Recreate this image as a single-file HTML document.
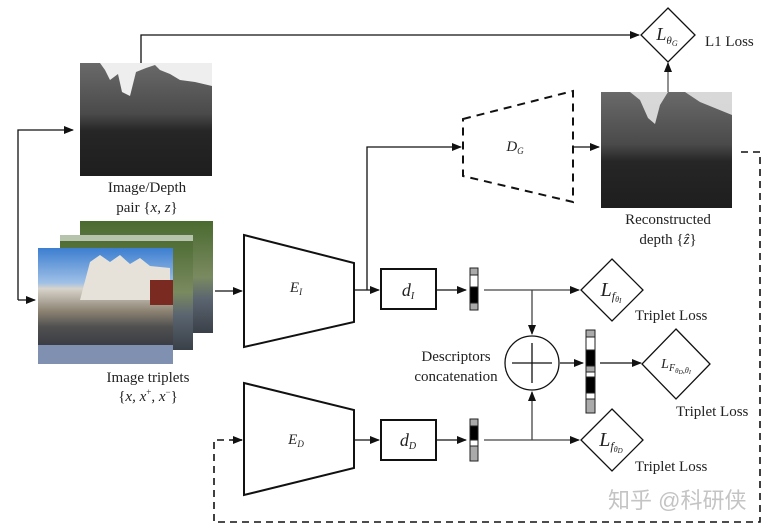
<!DOCTYPE html>
<html><head><meta charset="utf-8"><style>
html,body{margin:0;padding:0;background:#fff}
svg{display:block}
text{font-family:"Liberation Serif","Noto Serif CJK SC",serif;fill:#222}
</style></head><body>
<svg width="775" height="531" viewBox="0 0 775 531" xmlns="http://www.w3.org/2000/svg">
<defs>
<marker id="a" markerWidth="10" markerHeight="8" refX="9" refY="4" orient="auto" markerUnits="userSpaceOnUse"><path d="M0,0 L10,4 L0,8 z" fill="#111"/></marker>
<linearGradient id="dep" x1="0" y1="0" x2="0" y2="1">
<stop offset="0" stop-color="#6a6a6a"/><stop offset="0.45" stop-color="#4a4a4a"/><stop offset="0.6" stop-color="#262626"/><stop offset="1" stop-color="#1e1e1e"/></linearGradient>
<linearGradient id="sky" x1="0" y1="0" x2="0" y2="1">
<stop offset="0" stop-color="#3c7ed0"/><stop offset="0.3" stop-color="#9fc0e6"/><stop offset="0.35" stop-color="#d8d4cc"/><stop offset="0.55" stop-color="#8a8070"/><stop offset="0.68" stop-color="#505050"/><stop offset="0.85" stop-color="#3a3c44"/><stop offset="1" stop-color="#8090b0"/></linearGradient>
<linearGradient id="tree" x1="0" y1="0" x2="0" y2="1">
<stop offset="0" stop-color="#4a6a30"/><stop offset="0.5" stop-color="#7a8a60"/><stop offset="0.7" stop-color="#5a6470"/><stop offset="1" stop-color="#3a4048"/></linearGradient>
</defs>
<g stroke="#111" stroke-width="1.3" fill="none">
<path d="M141,63 V35 H639" marker-end="url(#a)"/>
<path d="M668,92 V63" marker-end="url(#a)" stroke="#555"/>
<path d="M18,300 V130 H73" marker-end="url(#a)"/>
<path d="M18,300 H35" marker-end="url(#a)"/>
<path d="M215,291 H242" marker-end="url(#a)"/>
<path d="M355,290 H379" marker-end="url(#a)"/>
<path d="M367,290 V147 H461" marker-end="url(#a)"/>
<path d="M573,147 H599" marker-end="url(#a)"/>
<path d="M437,290 H466" marker-end="url(#a)"/>
<path d="M355,440 H379" marker-end="url(#a)"/>
<path d="M437,440 H466" marker-end="url(#a)"/>
<path d="M484,290 H579" marker-end="url(#a)" stroke="#444"/>
<path d="M484,440 H579" marker-end="url(#a)" stroke="#444"/>
<path d="M532,290 V334" marker-end="url(#a)" stroke="#444"/>
<path d="M532,440 V392" marker-end="url(#a)" stroke="#444"/>
<path d="M560,363 H583" marker-end="url(#a)"/>
<path d="M600,363 H641" marker-end="url(#a)"/>
<path d="M741,152 H760 V522 H214 V440 H242" stroke-dasharray="7,5" stroke-width="1.6"/>
<path d="M232,440 H242" marker-end="url(#a)"/>
<path d="M244,235 L354,263 L354,322 L244,347 Z" stroke-width="2"/>
<path d="M244,383 L354,410 L354,468 L244,495 Z" stroke-width="2"/>
<path d="M463,119 L573,91 L573,202 L463,176 Z" stroke-width="2" stroke-dasharray="8,6"/>
<rect x="381" y="269" width="55" height="40" stroke-width="2"/>
<rect x="381" y="420" width="55" height="40" stroke-width="2"/>
<path d="M668,8 L695,35 L668,62 L641,35 Z" fill="#fff"/>
<path d="M612,259 L643,290 L612,321 L581,290 Z" fill="#fff"/>
<path d="M612,409 L643,440 L612,471 L581,440 Z" fill="#fff"/>
<path d="M676,329 L710,364 L676,399 L642,364 Z" fill="#fff"/>
<circle cx="532" cy="363" r="27" fill="#fff"/>
<path d="M512,363 H552 M532,343 V383"/>
</g>
<g stroke="#222" stroke-width="1">
<rect x="470" y="268" width="8" height="42" fill="#aaa"/><rect x="470" y="275" width="8" height="12" fill="#fff"/><rect x="470" y="287" width="8" height="16" fill="#000"/>
<rect x="470" y="419" width="8" height="42" fill="#aaa"/><rect x="470" y="426" width="8" height="14" fill="#000"/><rect x="470" y="440" width="8" height="6" fill="#fff"/>
<rect x="586" y="330" width="9" height="83" fill="#aaa"/><rect x="586" y="337" width="9" height="13" fill="#fff"/><rect x="586" y="350" width="9" height="16" fill="#000"/><rect x="586" y="372" width="9" height="5" fill="#fff"/><rect x="586" y="377" width="9" height="16" fill="#000"/><rect x="586" y="393" width="9" height="6" fill="#fff"/>
</g>
<rect x="80" y="63" width="132" height="113" fill="url(#dep)"/>
<path d="M80,63 H100 L105,70 L110,80 L118,74 L122,92 L130,96 L136,72 L146,68 L155,65 L160,70 L170,74 L180,80 L195,82 L212,86 V63 Z" fill="#eee"/>
<rect x="601" y="92" width="131" height="116" fill="url(#dep)"/>
<path d="M630,92 L640,100 L648,118 L655,124 L660,105 L668,92 Z M685,92 L700,102 L732,115 V92 Z" fill="#e4e4e4" opacity="0.9"/>
<rect x="80" y="221" width="133" height="112" fill="url(#tree)"/>
<rect x="60" y="235" width="133" height="115" fill="url(#tree)"/>
<rect x="60" y="235" width="133" height="6" fill="#fff" opacity="0.6"/>
<rect x="38" y="248" width="135" height="116" fill="url(#sky)"/>
<path d="M90,262 L100,255 L110,262 L120,255 L130,264 L140,258 L150,266 L170,268 V300 H80 Z" fill="#e6e2da"/>
<rect x="150" y="280" width="23" height="25" fill="#7a2a20"/>
<rect x="38" y="345" width="135" height="19" fill="#8090b0"/>
<g font-size="15" text-anchor="middle">
<text x="147" y="192">Image/Depth</text>
<text x="147" y="212">pair {<tspan font-style="italic">x, z</tspan>}</text>
<text x="148" y="382">Image triplets</text>
<text x="148" y="401">{<tspan font-style="italic">x, x</tspan><tspan font-size="9" dy="-6">+</tspan><tspan dy="6">, </tspan><tspan font-style="italic">x</tspan><tspan font-size="9" dy="-6">−</tspan><tspan dy="6">}</tspan></text>
<text x="668" y="224">Reconstructed</text>
<text x="668" y="244">depth {<tspan font-style="italic">ẑ</tspan>}</text>
<text x="456" y="361">Descriptors</text>
<text x="456" y="381">concatenation</text>
</g>
<g font-size="15">
<text x="705" y="46">L1 Loss</text>
<text x="635" y="320">Triplet Loss</text>
<text x="676" y="416">Triplet Loss</text>
<text x="635" y="471">Triplet Loss</text>
</g>
<g font-style="italic" text-anchor="middle">
<text x="296" y="292" font-size="15">E<tspan font-size="9" dy="3">I</tspan></text>
<text x="296" y="444" font-size="15">E<tspan font-size="9" dy="3">D</tspan></text>
<text x="515" y="151" font-size="15">D<tspan font-size="9" dy="3">G</tspan></text>
<text x="408" y="296" font-size="18">d<tspan font-size="10" dy="3">I</tspan></text>
<text x="408" y="446" font-size="18">d<tspan font-size="10" dy="3">D</tspan></text>
<text x="667" y="40" font-size="18">L<tspan font-size="11" dy="4">θ</tspan><tspan font-size="8" dy="2">G</tspan></text>
<text x="611" y="296" font-size="20">L<tspan font-size="12" dy="4">f</tspan><tspan font-size="8" dy="2">θ</tspan><tspan font-size="7" dy="1">I</tspan></text>
<text x="611" y="446" font-size="20">L<tspan font-size="12" dy="4">f</tspan><tspan font-size="8" dy="2">θ</tspan><tspan font-size="7" dy="1">D</tspan></text>
<text x="676" y="368" font-size="14">L<tspan font-size="10" dy="3">F</tspan><tspan font-size="7" dy="2">θ</tspan><tspan font-size="6" dy="1">D</tspan><tspan font-size="8" dy="-1">,θ</tspan><tspan font-size="6" dy="1">I</tspan></text>
</g>
<text x="608" y="508" font-size="22" style="fill:#c4c4c4;font-family:'Liberation Sans','Noto Sans CJK SC',sans-serif">知乎 @科研侠</text>
</svg>
</body></html>
